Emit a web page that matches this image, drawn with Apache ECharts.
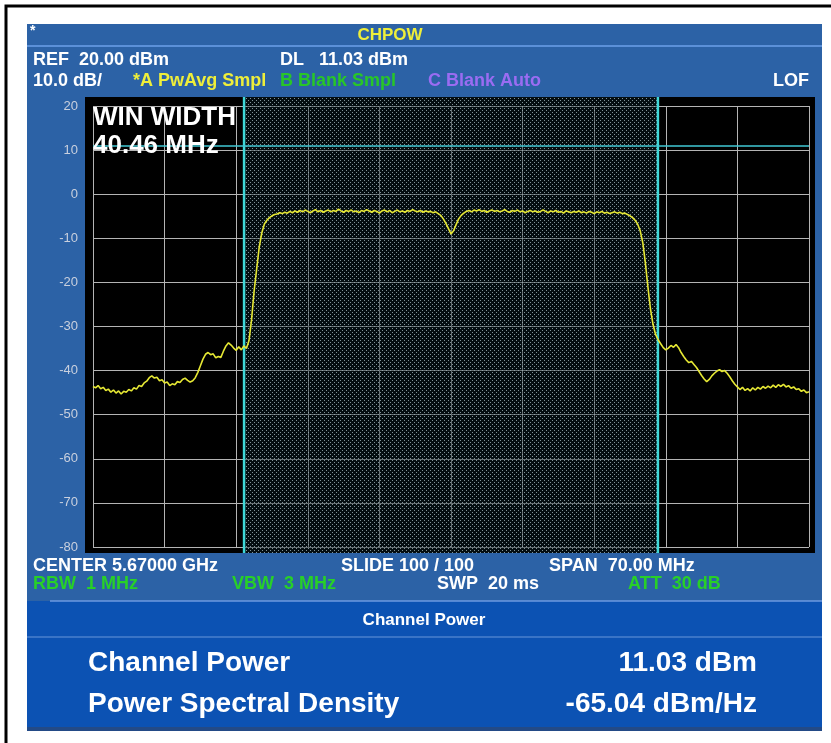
<!DOCTYPE html>
<html>
<head>
<meta charset="utf-8">
<title>CHPOW</title>
<script src="https://cdn.jsdelivr.net/npm/echarts@6/dist/echarts.min.js"></script>
<style>
  html, body { margin: 0; padding: 0; background: #fff; }
  #chart { width: 831px; height: 743px; }
</style>
</head>
<body>
<div id="chart"></div>
<script>
// sweep: center 5.67 GHz, span 70 MHz, x in MHz offset from center
const START_MHZ = -35
const STEP_MHZ = 0.25
const spanLo = -35
const spanHi = 35
const divMHz = 7
const refLevel = 20
const bottomLevel = -80
const dbPerDiv = 10
const displayLine = 11.03
const winLo = -20.23
const winHi = 20.23

// trace levels (dBm), one every 0.25 MHz
const levels = [
  // -35 .. -20
  -43.6, -43.9, -43.4, -44.1, -43.8, -44.5, -44.2, -44.9, -44.4, -45.1,
  -44.6, -45.3, -44.7, -44.9, -44.3, -44.6, -43.9, -44.2, -43.4, -43.6,
  -42.8, -42.4, -41.6, -41.2, -41.7, -41.5, -42.3, -42.1, -42.8, -42.6,
  -43.4, -43.0, -43.2, -42.5, -42.7, -42.0, -41.7, -42.2, -42.6, -42.3,
  -41.6, -40.4, -38.9, -37.4, -36.3, -35.9, -36.4, -36.2, -37.1, -36.8,
  -37.0, -35.6, -34.4, -33.7, -34.2, -34.9, -35.4, -34.6, -35.3, -34.4,
  -35.0,
  // -19.75 .. -16.75 rising edge
  -33.2, -28.5, -22.0, -17.0, -12.0, -8.8, -6.8, -5.9, -5.3, -4.9,
  -4.6, -4.5, -4.2,
  // -16.5 .. -1.25 flat top
  -4.4, -4.1, -4.3, -3.9, -4.2, -3.8, -4.1, -3.7, -4.0, -3.6,
  -3.9, -4.2, -3.8, -3.5, -4.0, -3.7, -4.1, -3.8, -3.6, -4.0,
  -3.7, -3.9, -3.4, -3.8, -4.1, -3.7, -3.9, -3.6, -4.0, -3.8,
  -4.2, -3.7, -3.9, -3.5, -3.8, -4.1, -3.7, -3.9, -4.3, -3.8,
  -3.6, -4.0, -3.7, -4.2, -3.9, -3.6, -4.0, -3.8, -4.1, -3.7,
  -3.9, -3.5, -3.8, -4.0, -3.7, -4.1, -3.8, -4.0, -3.9, -4.2,
  -4.0, -4.4,
  // -1.0 .. 1.5 center notch
  -4.8, -5.6, -6.6, -7.8, -9.0, -8.3, -6.9, -5.6, -4.8, -4.3,
  -3.9,
  // 1.75 .. 17.25 flat top
  -3.7, -4.0, -3.6, -3.8, -3.5, -3.9, -3.7, -4.1, -3.8, -3.6,
  -3.9, -3.7, -4.0, -3.8, -3.5, -3.9, -4.1, -3.7, -3.9, -3.6,
  -4.0, -3.8, -4.2, -3.9, -3.7, -4.0, -3.8, -4.1, -3.9, -3.6,
  -3.9, -4.2, -3.8, -4.0, -3.7, -4.1, -3.9, -4.3, -3.8, -4.0,
  -4.2, -3.9, -4.1, -3.8, -4.2, -4.0, -4.3, -3.9, -4.1, -4.4,
  -4.0, -4.2, -3.9, -4.3, -4.1, -4.4, -4.2, -4.0, -4.3, -4.1,
  -4.4, -4.3, -4.6,
  // 17.5 .. 21.0 falling edge
  -4.9, -5.3, -5.9, -6.8, -8.3, -11.0, -15.5, -21.0, -26.0, -29.5,
  -31.8, -33.0, -33.9, -34.8, -35.3,
  // 21.25 .. 35
  -34.9, -34.3, -34.7, -34.1, -34.8, -35.9, -36.8, -37.6, -38.2, -37.9,
  -38.6, -39.3, -40.2, -41.1, -41.9, -42.5, -42.0, -41.2, -40.6, -40.1,
  -39.8, -40.2, -40.0, -40.6, -41.4, -42.3, -43.1, -43.7, -44.3, -43.8,
  -44.5, -44.1, -44.6, -43.9, -44.4, -43.8, -44.2, -43.6, -44.0, -43.5,
  -43.9, -43.3, -43.8, -43.2, -43.6, -43.1, -43.7, -43.4, -44.0, -43.7,
  -44.3, -44.1, -44.7, -44.4, -45.0, -44.8
]

const topRow = [
  { x: 33, text: 'REF  20.00 dBm', color: '#ffffff' },
  { x: 280, text: 'DL   11.03 dBm', color: '#ffffff' }
]
const traceRow = [
  { x: 33, text: '10.0 dB/', color: '#ffffff' },
  { x: 133, text: '*A PwAvg Smpl', color: '#eeee3a' },
  { x: 280, text: 'B Blank Smpl', color: '#28c628' },
  { x: 428, text: 'C Blank Auto', color: '#9a6cf2' },
  { x: 773, text: 'LOF', color: '#ffffff' }
]
const freqRow = [
  { x: 33, text: 'CENTER 5.67000 GHz', color: '#ffffff' },
  { x: 341, text: 'SLIDE 100 / 100', color: '#ffffff' },
  { x: 549, text: 'SPAN  70.00 MHz', color: '#ffffff' }
]
const setupRow = [
  { x: 33, text: 'RBW  1 MHz', color: '#28d028' },
  { x: 232, text: 'VBW  3 MHz', color: '#28d028' },
  { x: 437, text: 'SWP  20 ms', color: '#ffffff' },
  { x: 628, text: 'ATT  30 dB', color: '#28d028' }
]
const results = [
  { label: 'Channel Power', value: '11.03 dBm' },
  { label: 'Power Spectral Density', value: '-65.04 dBm/Hz' }
]

const FONT = '"Liberation Sans", Arial, sans-serif'

const chart = echarts.init(document.getElementById('chart'))

// dotted fill for the integration window
const tile = document.createElement('canvas')
tile.width = 4
tile.height = 4
const tctx = tile.getContext('2d')
tctx.fillStyle = 'rgba(8, 28, 36, 0.45)'
tctx.fillRect(0, 0, 4, 4)
tctx.fillStyle = 'rgba(160, 180, 185, 0.8)'
tctx.fillRect(0, 0, 1, 1)
tctx.fillRect(2, 2, 1, 1)
const dotPattern = { image: tile, repeat: 'repeat' }

const traceData = levels.map((v, i) => [START_MHZ + i * STEP_MHZ, v])

const txt = (x, y, text, color, size, align) => ({
  type: 'text',
  x, y, z: 10,
  style: {
    text, fill: color,
    font: `bold ${size}px ${FONT}`,
    align: align || 'left',
    verticalAlign: 'middle'
  }
})

const rowTexts = (row, y) => row.map(r => txt(r.x, y, r.text, r.color, 18))

const graphic = [
  // outer frame (only top/left edges in view)
  { type: 'rect', z: -30, shape: { x: 6, y: 6, width: 900, height: 800 }, style: { fill: 'none', stroke: '#000', lineWidth: 3 } },
  // instrument panel
  { type: 'rect', z: -25, shape: { x: 27, y: 24, width: 795, height: 707 }, style: { fill: '#2c62a6' } },
  { type: 'line', z: -24, shape: { x1: 27, y1: 46, x2: 822, y2: 46 }, style: { stroke: '#5b90d8', lineWidth: 2 } },
  // results panel
  { type: 'rect', z: -24, shape: { x: 27, y: 601, width: 795, height: 130 }, style: { fill: '#0c52b3' } },
  { type: 'line', z: -23, shape: { x1: 50, y1: 601, x2: 822, y2: 601 }, style: { stroke: '#6c9ae0', lineWidth: 1.5 } },
  { type: 'line', z: -23, shape: { x1: 27, y1: 637, x2: 822, y2: 637 }, style: { stroke: '#4a80cc', lineWidth: 1.5 } },
  { type: 'rect', z: -23, shape: { x: 27, y: 727, width: 795, height: 4 }, style: { fill: '#234a86' } },
  // screen
  { type: 'rect', z: -20, shape: { x: 85, y: 97, width: 730, height: 456 }, style: { fill: '#000' } },

  txt(30, 31, '*', '#ffffff', 14),
  txt(390, 35, 'CHPOW', '#eeee3a', 17, 'center'),
  ...rowTexts(topRow, 60),
  ...rowTexts(traceRow, 81),
  txt(93, 118, 'WIN WIDTH', '#ffffff', 26),
  txt(93, 146, '40.46 MHz', '#ffffff', 26),
  ...rowTexts(freqRow, 566),
  ...rowTexts(setupRow, 584),
  txt(424, 620, 'Channel Power', '#ffffff', 17, 'center'),
  ...results.flatMap((r, i) => [
    txt(88, 663 + i * 41, r.label, '#ffffff', 28),
    txt(757, 663 + i * 41, r.value, '#ffffff', 28, 'right')
  ])
]

const gridLine = { show: true, lineStyle: { color: '#b4b4b4', width: 1 } }

const option = {
  animation: false,
  backgroundColor: '#ffffff',
  grid: { left: 93, right: 22, top: 106, bottom: 196, containLabel: false },
  xAxis: [
    {
      type: 'value', min: spanLo, max: spanHi, interval: divMHz,
      axisLabel: { show: false },
      axisLine: { show: false },
      axisTick: { show: true, length: 6, lineStyle: { color: '#b4b4b4' } },
      splitLine: gridLine
    },
    {
      type: 'value', position: 'top', min: spanLo, max: spanHi, interval: divMHz,
      axisLabel: { show: false },
      axisLine: { show: false },
      axisTick: { show: true, length: 9, lineStyle: { color: '#b4b4b4' } },
      splitLine: { show: false }
    }
  ],
  yAxis: [
    {
      type: 'value', min: bottomLevel, max: refLevel, interval: dbPerDiv,
      axisLine: { show: false },
      axisTick: { show: true, length: 8, lineStyle: { color: '#b4b4b4' } },
      axisLabel: { color: '#c9d0de', fontSize: 13, margin: 15, fontFamily: FONT },
      splitLine: gridLine
    },
    {
      type: 'value', position: 'right', min: bottomLevel, max: refLevel, interval: dbPerDiv,
      axisLine: { show: false },
      axisTick: { show: true, length: 3, lineStyle: { color: '#b4b4b4' } },
      axisLabel: { show: false },
      splitLine: { show: false }
    }
  ],
  graphic,
  series: [
    {
      type: 'custom',
      z: 1,
      silent: true,
      data: [[winLo, winHi]],
      renderItem: (params, api) => {
        const a = api.coord([api.value(0), refLevel])
        const b = api.coord([api.value(1), bottomLevel])
        const top = a[1] - 9
        const bottom = b[1] + 6
        const cyan = { stroke: '#3fd8d8', lineWidth: 2.5 }
        return {
          type: 'group',
          children: [
            { type: 'rect', shape: { x: a[0], y: top, width: b[0] - a[0], height: bottom - top }, style: { fill: dotPattern } },
            { type: 'line', shape: { x1: a[0], y1: top, x2: a[0], y2: bottom }, style: cyan },
            { type: 'line', shape: { x1: b[0], y1: top, x2: b[0], y2: bottom }, style: cyan }
          ]
        }
      }
    },
    {
      name: 'Trace A',
      type: 'line',
      z: 3,
      data: traceData,
      showSymbol: false,
      lineStyle: { color: '#e6e834', width: 1.6 },
      markLine: {
        silent: true,
        symbol: 'none',
        label: { show: false },
        lineStyle: { color: '#40c8d4', width: 1.5, type: 'solid' },
        data: [{ yAxis: displayLine }]
      }
    }
  ]
}

chart.setOption(option)
</script>
</body>
</html>
